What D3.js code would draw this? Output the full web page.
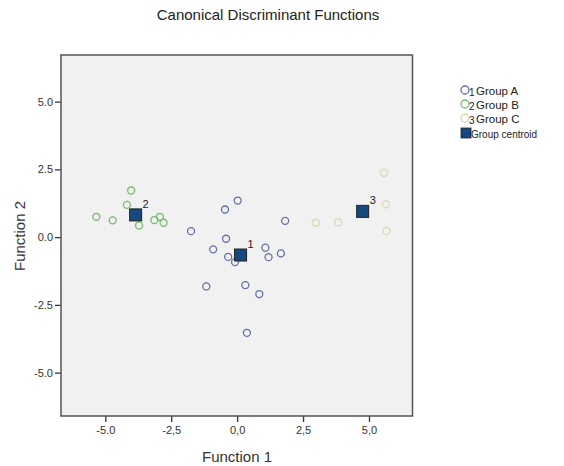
<!DOCTYPE html>
<html><head><meta charset="utf-8">
<script src="https://cdn.jsdelivr.net/npm/d3@7"></script>
<style>body{margin:0;background:#fff;}svg{display:block;font-family:"Liberation Sans",Arial,sans-serif;}</style>
</head><body>
<svg id="c" width="564" height="466"></svg>
<script>
const groupNames = ["Group A", "Group B", "Group C"];
const groupAX = [0.02, -0.46, 1.82, -1.75, -0.42, -0.91, -0.34, -0.08, 1.07, 1.19, 1.66, -1.17, 0.31, 0.84, 0.37];
const groupAY = [1.35, 1.02, 0.60, 0.22, -0.06, -0.45, -0.73, -0.92, -0.39, -0.74, -0.60, -1.82, -1.77, -2.10, -3.53];
const groupBX = [-4.02, -4.18, -5.34, -4.72, -3.72, -3.14, -2.93, -2.79];
const groupBY = [1.72, 1.19, 0.75, 0.62, 0.43, 0.63, 0.75, 0.53];
const groupCX = [5.57, 5.64, 5.67, 2.98, 3.83];
const groupCY = [2.37, 1.21, 0.23, 0.53, 0.55];
const centroidX = [0.13, -3.85, 4.76];
const centroidY = [-0.66, 0.82, 0.95];
const centroidLabels = ["1", "2", "3"];
const xTicks = [-5, -2.5, 0, 2.5, 5];
const xTickLabels = ["-5.0", "-2,5", "0,0", "2,5", "5,0"];
const yTicks = [5, 2.5, 0, -2.5, -5];
const yTickLabels = ["5.0", "2.5", "0.0", "-2.5", "-5.0"];
const colors = ["#6570a8", "#74bd68", "#dad8ae"];

const svg = d3.select("#c");
const L = 61, R = 412.5, T = 55, B = 416;
const x = d3.scaleLinear().domain([-6.68, 6.65]).range([L, R]);
const y = d3.scaleLinear().domain([-6.6, 6.72]).range([B, T]);

svg.append("text").attr("x", 268).attr("y", 20).attr("text-anchor", "middle")
  .attr("font-size", 15).attr("fill", "#222").text("Canonical Discriminant Functions");

svg.append("rect").attr("x", L).attr("y", T).attr("width", R - L).attr("height", B - T)
  .attr("fill", "#f0f1f0");

const xa = svg.append("g").attr("transform", `translate(0,${B})`)
  .call(d3.axisBottom(x).tickValues(xTicks).tickSize(6).tickPadding(4)
    .tickFormat((d, i) => xTickLabels[i]));
const ya = svg.append("g").attr("transform", `translate(${L},0)`)
  .call(d3.axisLeft(y).tickValues(yTicks).tickSize(6).tickPadding(2)
    .tickFormat((d, i) => yTickLabels[i]));
[xa, ya].forEach(g => {
  g.select(".domain").remove();
  g.selectAll(".tick line").attr("stroke", "#333").attr("stroke-width", 1.3);
  g.selectAll(".tick text").attr("font-size", 11).attr("fill", "#333")
    .attr("font-family", "Liberation Sans, Arial, sans-serif");
});

svg.append("rect").attr("x", L).attr("y", T).attr("width", R - L).attr("height", B - T)
  .attr("fill", "none").attr("stroke", "#555").attr("stroke-width", 1.5);

const groups = [[groupAX, groupAY], [groupBX, groupBY], [groupCX, groupCY]];
groups.forEach(([gx, gy], gi) => {
  svg.append("g").selectAll("circle").data(gx.map((v, i) => [v, gy[i]])).join("circle")
    .attr("cx", d => x(d[0])).attr("cy", d => y(d[1])).attr("r", 3.5)
    .attr("fill", "none").attr("stroke", colors[gi]).attr("stroke-width", 1.3);
});

const cents = centroidX.map((v, i) => ({x: v, y: centroidY[i], l: centroidLabels[i]}));
svg.append("g").selectAll("rect").data(cents).join("rect")
  .attr("x", d => x(d.x) - 6).attr("y", d => y(d.y) - 6).attr("width", 12).attr("height", 12)
  .attr("fill", "#164a7e").attr("stroke", "#222").attr("stroke-width", 1);
svg.append("g").selectAll("text").data(cents).join("text")
  .attr("x", d => x(d.x) + 7).attr("y", d => y(d.y) - 7)
  .attr("font-size", 11).attr("fill", "#222").text(d => d.l);

svg.append("text").attr("x", 237).attr("y", 462).attr("text-anchor", "middle")
  .attr("font-size", 15).attr("fill", "#333").text("Function 1");
svg.append("text").attr("transform", "translate(25,236) rotate(-90)").attr("text-anchor", "middle")
  .attr("font-size", 15).attr("fill", "#333").text("Function 2");

// legend
const lg = svg.append("g");
const rowsY = [90, 104, 118];
groupNames.forEach((n, i) => {
  lg.append("circle").attr("cx", 465).attr("cy", rowsY[i]).attr("r", 4)
    .attr("fill", "none").attr("stroke", colors[i]).attr("stroke-width", 1.3);
  lg.append("text").attr("x", 469).attr("y", rowsY[i] + 6).attr("font-size", 10)
    .attr("fill", "#222").text(String(i + 1));
  lg.append("text").attr("x", 476).attr("y", rowsY[i] + 5).attr("font-size", 11.5)
    .attr("fill", "#222").text(n);
});
lg.append("rect").attr("x", 461).attr("y", 128).attr("width", 10).attr("height", 10)
  .attr("fill", "#164a7e").attr("stroke", "#222").attr("stroke-width", 0.8);
lg.append("text").attr("x", 471).attr("y", 138).attr("font-size", 10)
  .attr("fill", "#222").text("Group centroid");
</script>
</body></html>
